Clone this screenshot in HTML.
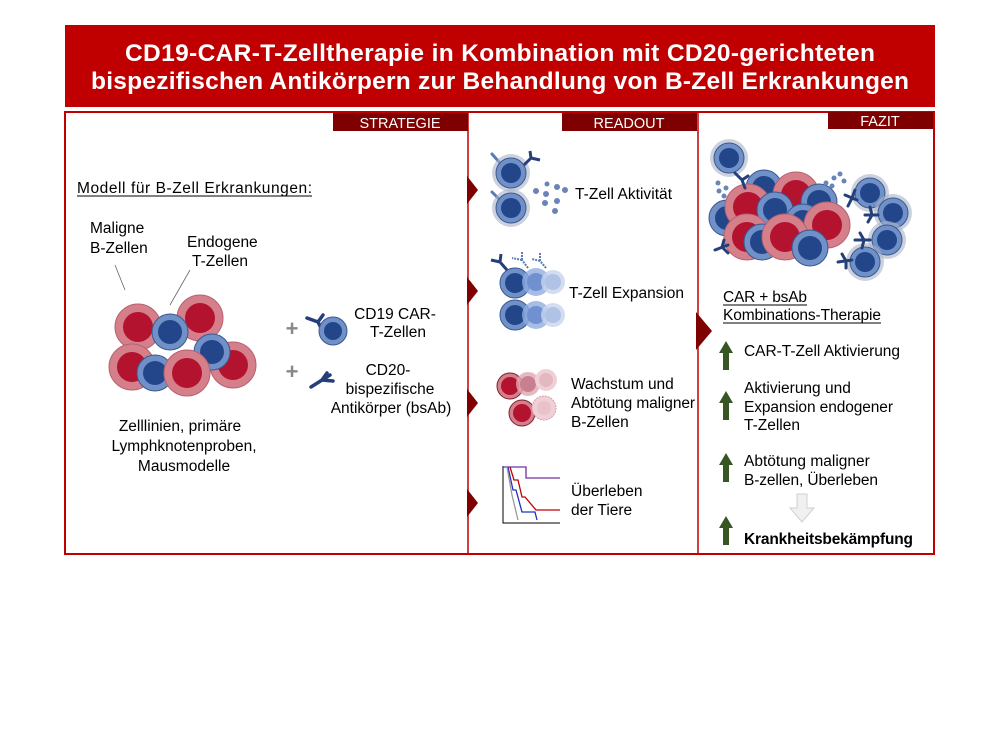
<!DOCTYPE html>
<html><head><meta charset="utf-8"><style>
body{margin:0;background:#fff;}
svg{display:block;font-family:"Liberation Sans",sans-serif;}
</style></head><body>
<svg width="1000" height="750" viewBox="0 0 1000 750" xmlns="http://www.w3.org/2000/svg" font-size="15.5">
<defs>
<g id="B"><circle r="23" fill="#d57f8b" stroke="#b86070" stroke-width="1"/><circle r="15" fill="#b3132f"/></g>
<g id="T"><circle r="18" fill="#7090c8" stroke="#3c5890" stroke-width="1"/><circle r="12" fill="#23468a"/></g>
<g id="Tg"><circle r="19" fill="#a8b4c8" opacity="0.6"/><circle r="15" fill="#7090c8" stroke="#3c5890"/><circle r="10" fill="#23468a"/></g>
<g id="chev"><path d="M0 -14 L11 0 L0 14 Z" fill="#7f0000"/></g>
</defs>

<rect x="65" y="25" width="870" height="82" fill="#c00000"/>
<text x="500" y="61" text-anchor="middle" font-size="24.5" font-weight="bold" fill="#fff" textLength="750">CD19-CAR-T-Zelltherapie in Kombination mit CD20-gerichteten</text>
<text x="500" y="89" text-anchor="middle" font-size="24.5" font-weight="bold" fill="#fff" textLength="818">bispezifischen Antikörpern zur Behandlung von B-Zell Erkrankungen</text>

<rect x="65" y="112" width="869" height="442" fill="none" stroke="#c00000" stroke-width="2"/>
<line x1="468" y1="112" x2="468" y2="554" stroke="#c00000" stroke-width="1.5"/>
<line x1="698" y1="112" x2="698" y2="554" stroke="#c00000" stroke-width="1.5"/>

<rect x="333" y="113" width="135" height="18" fill="#7f0000"/>
<text x="400" y="128" text-anchor="middle" font-size="14.5" fill="#fff">STRATEGIE</text>
<rect x="562" y="113" width="135" height="18" fill="#7f0000"/>
<text x="629" y="128" text-anchor="middle" font-size="14.5" fill="#fff">READOUT</text>
<rect x="828" y="112" width="105" height="17" fill="#7f0000"/>
<text x="880" y="126" text-anchor="middle" font-size="14.5" fill="#fff">FAZIT</text>

<use href="#chev" x="467" y="190"/><use href="#chev" x="467" y="291"/>
<use href="#chev" x="467" y="403"/><use href="#chev" x="467" y="503"/>
<path d="M696 312 L712 331 L696 350 Z" fill="#7f0000"/>

<!-- Strategy -->
<text x="77" y="193" textLength="235">Modell für B-Zell Erkrankungen:</text>
<line x1="77" y1="196" x2="312" y2="196" stroke="#000" stroke-width="1"/>
<text x="90" y="233">Maligne</text>
<text x="90" y="253">B-Zellen</text>
<text x="187" y="247">Endogene</text>
<text x="192" y="266">T-Zellen</text>
<line x1="115" y1="265" x2="125" y2="290" stroke="#666" stroke-width="0.8"/>
<line x1="190" y1="270" x2="170" y2="305" stroke="#666" stroke-width="0.8"/>
<use href="#B" x="138" y="327"/><use href="#B" x="200" y="318"/>
<use href="#T" x="170" y="332"/>
<use href="#B" x="233" y="365"/><use href="#T" x="212" y="352"/>
<use href="#B" x="132" y="367"/><use href="#T" x="155" y="373"/>
<use href="#B" x="187" y="373"/>
<text x="180" y="431" text-anchor="middle">Zelllinien, primäre</text>
<text x="184" y="451" text-anchor="middle">Lymphknotenproben,</text>
<text x="184" y="471" text-anchor="middle">Mausmodelle</text>

<text x="292" y="336" text-anchor="middle" font-size="22" font-weight="bold" fill="#888">+</text>
<text x="292" y="379" text-anchor="middle" font-size="22" font-weight="bold" fill="#888">+</text>
<g stroke="#243f7a" stroke-width="3.5" fill="none" stroke-linecap="round">
<path d="M307 318 L318 322 L322 330 M318 322 L323 315"/>
<path d="M311 387 L330 375 M322 380 L327 373 M322 380 L333 381"/>
</g>
<circle cx="333" cy="331" r="14" fill="#7090c8" stroke="#3c5890"/><circle cx="333" cy="331" r="9" fill="#23468a"/>
<text x="395" y="319" text-anchor="middle">CD19 CAR-</text>
<text x="398" y="337" text-anchor="middle">T-Zellen</text>
<text x="388" y="375" text-anchor="middle">CD20-</text>
<text x="390" y="394" text-anchor="middle">bispezifische</text>
<text x="391" y="413" text-anchor="middle">Antikörper (bsAb)</text>

<!-- Readout -->
<g stroke="#5a7ab8" stroke-width="3" stroke-linecap="round"><line x1="492" y1="154" x2="500" y2="163"/><line x1="492" y1="192" x2="500" y2="200"/></g>
<use href="#Tg" x="511" y="173"/><use href="#Tg" x="511" y="208"/>
<g stroke="#243f7a" stroke-width="3" fill="none"><path d="M524 165 L531 158 M531 158 L530 151 M531 158 L540 160"/></g>
<g fill="#6a84b8"><circle cx="536" cy="191" r="3"/><circle cx="546" cy="194" r="3"/><circle cx="557" cy="187" r="3"/><circle cx="565" cy="190" r="3"/><circle cx="545" cy="203" r="3"/><circle cx="557" cy="201" r="3"/><circle cx="555" cy="211" r="3"/><circle cx="547" cy="184" r="2.5"/></g>
<text x="575" y="199" textLength="97">T-Zell Aktivität</text>

<circle cx="515" cy="283" r="15" fill="#7090c8" stroke="#3c5890"/><circle cx="515" cy="283" r="10" fill="#23468a"/>
<circle cx="536" cy="282" r="14" fill="#90ace0" opacity="0.8"/><circle cx="536" cy="282" r="9" fill="#7090d0"/>
<circle cx="553" cy="282" r="12" fill="#c8d4ec" opacity="0.8"/><circle cx="553" cy="282" r="8" fill="#b0c2e6"/>
<circle cx="515" cy="315" r="15" fill="#7090c8" stroke="#3c5890"/><circle cx="515" cy="315" r="10" fill="#23468a"/>
<circle cx="536" cy="315" r="14" fill="#90ace0" opacity="0.8"/><circle cx="536" cy="315" r="9" fill="#7090d0"/>
<circle cx="553" cy="315" r="12" fill="#c8d4ec" opacity="0.8"/><circle cx="553" cy="315" r="8" fill="#b0c2e6"/>
<g stroke="#243f7a" stroke-width="3" fill="none"><path d="M507 270 L500 262 M500 262 L491 260 M500 262 L501 254"/></g>
<g stroke="#5a7ab8" stroke-width="2" fill="none" stroke-dasharray="2 1"><path d="M528 268 L522 260 M522 260 L512 258 M522 260 L522 251"/><path d="M546 268 L540 261 M540 261 L532 259 M540 261 L540 252"/></g>
<text x="569" y="298" textLength="115">T-Zell Expansion</text>

<circle cx="510" cy="386" r="13" fill="#d57f8b" stroke="#7a2030"/><circle cx="510" cy="386" r="9" fill="#b3132f"/>
<circle cx="528" cy="384" r="12" fill="#e0a8b0" opacity="0.8"/><circle cx="528" cy="384" r="8" fill="#c88090"/>
<circle cx="546" cy="380" r="11" fill="#f0d0d6"/><circle cx="546" cy="380" r="7" fill="#e4b8c0"/>
<circle cx="522" cy="413" r="13" fill="#d57f8b" stroke="#7a2030"/><circle cx="522" cy="413" r="9" fill="#b3132f"/>
<circle cx="544" cy="408" r="12" fill="#f0d0d6" stroke="#d0a0a8" stroke-dasharray="2 1"/><circle cx="544" cy="408" r="7" fill="#e8c4ca"/>
<text x="571" y="389">Wachstum und</text>
<text x="571" y="408" textLength="124">Abtötung maligner</text>
<text x="571" y="427">B-Zellen</text>

<g fill="none" stroke-width="1.3">
<path d="M503 466 L503 523 L560 523" stroke="#000" stroke-width="1"/>
<path d="M503 467 L526 467 L526 478 L560 478" stroke="#7030a0"/>
<path d="M510 467 L514 480 L518 480 L522 497 L525 497 L536 510 L536 510 L560 510" stroke="#c00000"/>
<path d="M508 467 L513 490 L516 490 L522 512 L535 512 L537 520" stroke="#2030c0"/>
<path d="M507 467 L512 495 L518 520" stroke="#999"/>
</g>
<text x="571" y="496">Überleben</text>
<text x="571" y="515">der Tiere</text>

<!-- Fazit -->
<use href="#Tg" x="729" y="158"/>
<use href="#T" x="764" y="188"/><use href="#B" x="796" y="195"/><use href="#T" x="819" y="202"/>
<use href="#T" x="727" y="218"/><use href="#B" x="748" y="207"/><use href="#T" x="775" y="210"/>
<use href="#T" x="803" y="222"/><use href="#B" x="827" y="225"/>
<use href="#B" x="747" y="237"/><use href="#T" x="762" y="242"/><use href="#B" x="785" y="237"/>
<use href="#T" x="810" y="248"/>
<use href="#Tg" x="870" y="193"/><use href="#Tg" x="893" y="213"/><use href="#Tg" x="887" y="240"/><use href="#Tg" x="865" y="262"/>
<g stroke="#243f7a" stroke-width="3" fill="none" stroke-linecap="round">
<path d="M735 173 L742 180 L745 188 M742 180 L748 176"/>
<path d="M715 250 L728 245 M722 247 L724 240 M722 247 L728 253"/>
<path d="M845 195 L857 200 M852 198 L855 190 M852 198 L848 206"/>
<path d="M865 215 L878 215 M872 215 L870 207 M872 215 L868 222"/>
<path d="M855 240 L870 240 M864 240 L860 233 M864 240 L862 248"/>
<path d="M838 262 L852 260 M846 261 L842 254 M846 261 L846 268"/>
</g>
<g fill="#6a84b8"><circle cx="719" cy="191" r="2.5"/><circle cx="726" cy="188" r="2.5"/><circle cx="718" cy="183" r="2.5"/><circle cx="724" cy="196" r="2.5"/><circle cx="826" cy="183" r="2.5"/><circle cx="834" cy="178" r="2.5"/><circle cx="832" cy="186" r="2.5"/><circle cx="844" cy="181" r="2.5"/><circle cx="840" cy="174" r="2.5"/></g>

<text x="723" y="302" textLength="84">CAR + bsAb</text>
<line x1="723" y1="305" x2="807" y2="305" stroke="#000"/>
<text x="723" y="320" textLength="158">Kombinations-Therapie</text>
<line x1="723" y1="323" x2="881" y2="323" stroke="#000"/>

<g fill="#375623">
<path d="M723 370 L729 370 L729 353 L733 353 L726 341 L719 353 L723 353 Z"/>
<path d="M723 420 L729 420 L729 403 L733 403 L726 391 L719 403 L723 403 Z"/>
<path d="M723 482 L729 482 L729 465 L733 465 L726 453 L719 465 L723 465 Z"/>
<path d="M723 545 L729 545 L729 528 L733 528 L726 516 L719 528 L723 528 Z"/>
</g>
<path d="M797 494 L807 494 L807 508 L814 508 L802 522 L790 508 L797 508 Z" fill="#f0f0f0" stroke="#d0d0d0"/>
<text x="744" y="356" textLength="156">CAR-T-Zell Aktivierung</text>
<text x="744" y="393">Aktivierung und</text>
<text x="744" y="412" textLength="149">Expansion endogener</text>
<text x="744" y="430">T-Zellen</text>
<text x="744" y="466">Abtötung maligner</text>
<text x="744" y="485" textLength="134">B-zellen, Überleben</text>
<text x="744" y="544" font-weight="bold" textLength="169">Krankheitsbekämpfung</text>
</svg>
</body></html>
